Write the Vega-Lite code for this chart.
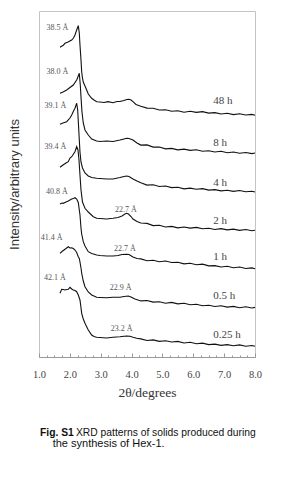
{
  "$schema": "https://vega.github.io/schema/vega-lite/v6.json",
  "width": 216,
  "height": 346,
  "autosize": {"type": "none"},
  "padding": {"left": 39, "top": 11, "right": 27, "bottom": 121},
  "background": "white",
  "config": {
    "view": {"stroke": "#c4c4c4", "strokeWidth": 1},
    "text": {"font": "Liberation Serif"}
  },
  "resolve": {"axis": {"x": "independent"}},
  "datasets": {
    "curves": [
      {"c":"48 h","x":1.680,"y":309.7},{"c":"48 h","x":1.745,"y":311.0},{"c":"48 h","x":1.778,"y":311.5},{"c":"48 h","x":1.842,"y":313.7},{"c":"48 h","x":1.940,"y":315.0},{"c":"48 h","x":2.060,"y":317.0},{"c":"48 h","x":2.118,"y":319.0},{"c":"48 h","x":2.166,"y":322.0},{"c":"48 h","x":2.221,"y":327.0},{"c":"48 h","x":2.273,"y":331.3},{"c":"48 h","x":2.306,"y":324.0},{"c":"48 h","x":2.328,"y":312.0},{"c":"48 h","x":2.361,"y":297.0},{"c":"48 h","x":2.383,"y":285.3},{"c":"48 h","x":2.409,"y":279.0},{"c":"48 h","x":2.435,"y":275.0},{"c":"48 h","x":2.490,"y":271.0},{"c":"48 h","x":2.545,"y":267.0},{"c":"48 h","x":2.597,"y":263.0},{"c":"48 h","x":2.707,"y":258.7},{"c":"48 h","x":2.782,"y":257.0},{"c":"48 h","x":2.870,"y":255.3},{"c":"48 h","x":2.976,"y":255.0},{"c":"48 h","x":3.106,"y":254.5},{"c":"48 h","x":3.236,"y":255.4},{"c":"48 h","x":3.398,"y":254.3},{"c":"48 h","x":3.527,"y":255.5},{"c":"48 h","x":3.624,"y":255.5},{"c":"48 h","x":3.754,"y":256.5},{"c":"48 h","x":3.842,"y":257.5},{"c":"48 h","x":3.916,"y":257.7},{"c":"48 h","x":3.981,"y":257.0},{"c":"48 h","x":4.046,"y":255.3},{"c":"48 h","x":4.143,"y":252.5},
      {"c":"48 h","x":4.3,"y":250.8},{"c":"48 h","x":4.5,"y":248.9},{"c":"48 h","x":4.7,"y":248.8},{"c":"48 h","x":4.9,"y":247.0},{"c":"48 h","x":5.1,"y":247.3},{"c":"48 h","x":5.3,"y":245.7},{"c":"48 h","x":5.5,"y":246.2},{"c":"48 h","x":5.7,"y":244.8},{"c":"48 h","x":5.9,"y":245.8},{"c":"48 h","x":6.1,"y":244.6},{"c":"48 h","x":6.3,"y":245.4},{"c":"48 h","x":6.5,"y":243.9},{"c":"48 h","x":6.7,"y":244.4},{"c":"48 h","x":6.9,"y":243.0},{"c":"48 h","x":7.1,"y":243.7},{"c":"48 h","x":7.3,"y":242.4},{"c":"48 h","x":7.5,"y":243.3},{"c":"48 h","x":7.7,"y":242.0},{"c":"48 h","x":7.9,"y":242.6},{"c":"48 h","x":8.0,"y":241.7},

      {"c":"8 h","x":1.680,"y":263.7},{"c":"8 h","x":1.778,"y":265.0},{"c":"8 h","x":1.897,"y":267.0},{"c":"8 h","x":2.004,"y":269.5},{"c":"8 h","x":2.111,"y":272.0},{"c":"8 h","x":2.221,"y":277.0},{"c":"8 h","x":2.273,"y":281.0},{"c":"8 h","x":2.306,"y":283.7},{"c":"8 h","x":2.338,"y":272.0},{"c":"8 h","x":2.367,"y":257.0},{"c":"8 h","x":2.393,"y":245.0},{"c":"8 h","x":2.435,"y":234.0},{"c":"8 h","x":2.490,"y":227.0},{"c":"8 h","x":2.597,"y":222.0},{"c":"8 h","x":2.707,"y":218.0},{"c":"8 h","x":2.870,"y":216.0},{"c":"8 h","x":2.976,"y":215.5},{"c":"8 h","x":3.193,"y":216.0},{"c":"8 h","x":3.398,"y":215.5},{"c":"8 h","x":3.624,"y":217.0},{"c":"8 h","x":3.754,"y":218.0},{"c":"8 h","x":3.842,"y":218.7},{"c":"8 h","x":3.916,"y":218.5},{"c":"8 h","x":4.046,"y":217.0},{"c":"8 h","x":4.175,"y":214.0},
      {"c":"8 h","x":4.3,"y":211.9},{"c":"8 h","x":4.5,"y":212.1},{"c":"8 h","x":4.7,"y":209.9},{"c":"8 h","x":4.9,"y":210.0},{"c":"8 h","x":5.1,"y":208.1},{"c":"8 h","x":5.3,"y":208.6},{"c":"8 h","x":5.5,"y":207.1},{"c":"8 h","x":5.7,"y":207.9},{"c":"8 h","x":5.9,"y":206.6},{"c":"8 h","x":6.1,"y":207.2},{"c":"8 h","x":6.3,"y":205.7},{"c":"8 h","x":6.5,"y":206.3},{"c":"8 h","x":6.7,"y":205.0},{"c":"8 h","x":6.9,"y":205.8},{"c":"8 h","x":7.1,"y":204.3},{"c":"8 h","x":7.3,"y":205.0},{"c":"8 h","x":7.5,"y":203.7},{"c":"8 h","x":7.7,"y":204.5},{"c":"8 h","x":7.9,"y":203.4},{"c":"8 h","x":8.0,"y":204.0},

      {"c":"4 h","x":1.680,"y":232.7},{"c":"4 h","x":1.778,"y":234.0},{"c":"4 h","x":1.897,"y":235.3},{"c":"4 h","x":2.004,"y":239.0},{"c":"4 h","x":2.060,"y":242.0},{"c":"4 h","x":2.118,"y":246.0},{"c":"4 h","x":2.166,"y":248.7},{"c":"4 h","x":2.221,"y":253.7},{"c":"4 h","x":2.254,"y":247.0},{"c":"4 h","x":2.280,"y":232.0},{"c":"4 h","x":2.306,"y":217.0},{"c":"4 h","x":2.328,"y":205.0},{"c":"4 h","x":2.361,"y":195.0},{"c":"4 h","x":2.409,"y":189.0},{"c":"4 h","x":2.490,"y":184.0},{"c":"4 h","x":2.597,"y":181.0},{"c":"4 h","x":2.707,"y":179.5},{"c":"4 h","x":2.870,"y":178.7},{"c":"4 h","x":2.976,"y":178.5},{"c":"4 h","x":3.193,"y":178.0},{"c":"4 h","x":3.398,"y":178.0},{"c":"4 h","x":3.624,"y":179.5},{"c":"4 h","x":3.754,"y":180.5},{"c":"4 h","x":3.842,"y":181.0},{"c":"4 h","x":3.916,"y":180.5},{"c":"4 h","x":4.046,"y":178.0},{"c":"4 h","x":4.175,"y":176.0},
      {"c":"4 h","x":4.3,"y":174.3},{"c":"4 h","x":4.5,"y":171.9},{"c":"4 h","x":4.7,"y":172.2},{"c":"4 h","x":4.9,"y":170.5},{"c":"4 h","x":5.1,"y":171.0},{"c":"4 h","x":5.3,"y":169.4},{"c":"4 h","x":5.5,"y":169.8},{"c":"4 h","x":5.7,"y":168.1},{"c":"4 h","x":5.9,"y":168.9},{"c":"4 h","x":6.1,"y":167.7},{"c":"4 h","x":6.3,"y":168.4},{"c":"4 h","x":6.5,"y":166.9},{"c":"4 h","x":6.7,"y":167.4},{"c":"4 h","x":6.9,"y":166.1},{"c":"4 h","x":7.1,"y":166.8},{"c":"4 h","x":7.3,"y":165.6},{"c":"4 h","x":7.5,"y":166.5},{"c":"4 h","x":7.7,"y":165.2},{"c":"4 h","x":7.9,"y":165.8},{"c":"4 h","x":8.0,"y":165.0},

      {"c":"2 h","x":1.680,"y":189.7},{"c":"2 h","x":1.778,"y":192.0},{"c":"2 h","x":1.875,"y":194.0},{"c":"2 h","x":1.949,"y":195.3},{"c":"2 h","x":2.004,"y":199.0},{"c":"2 h","x":2.060,"y":200.3},{"c":"2 h","x":2.118,"y":203.0},{"c":"2 h","x":2.166,"y":205.3},{"c":"2 h","x":2.221,"y":210.3},{"c":"2 h","x":2.264,"y":207.0},{"c":"2 h","x":2.296,"y":197.0},{"c":"2 h","x":2.328,"y":182.0},{"c":"2 h","x":2.361,"y":167.0},{"c":"2 h","x":2.409,"y":155.0},{"c":"2 h","x":2.490,"y":148.7},{"c":"2 h","x":2.597,"y":145.0},{"c":"2 h","x":2.759,"y":140.3},{"c":"2 h","x":2.870,"y":138.7},{"c":"2 h","x":2.976,"y":138.5},{"c":"2 h","x":3.193,"y":138.0},{"c":"2 h","x":3.398,"y":138.7},{"c":"2 h","x":3.560,"y":139.5},{"c":"2 h","x":3.689,"y":141.0},{"c":"2 h","x":3.786,"y":143.0},{"c":"2 h","x":3.842,"y":143.7},{"c":"2 h","x":3.900,"y":143.0},{"c":"2 h","x":3.981,"y":140.5},{"c":"2 h","x":4.046,"y":138.0},{"c":"2 h","x":4.175,"y":135.5},
      {"c":"2 h","x":4.3,"y":134.0},{"c":"2 h","x":4.5,"y":133.6},{"c":"2 h","x":4.7,"y":131.4},{"c":"2 h","x":4.9,"y":131.8},{"c":"2 h","x":5.1,"y":130.0},{"c":"2 h","x":5.3,"y":130.6},{"c":"2 h","x":5.5,"y":129.1},{"c":"2 h","x":5.7,"y":130.0},{"c":"2 h","x":5.9,"y":128.9},{"c":"2 h","x":6.1,"y":129.6},{"c":"2 h","x":6.3,"y":128.2},{"c":"2 h","x":6.5,"y":128.8},{"c":"2 h","x":6.7,"y":127.5},{"c":"2 h","x":6.9,"y":128.4},{"c":"2 h","x":7.1,"y":127.1},{"c":"2 h","x":7.3,"y":127.9},{"c":"2 h","x":7.5,"y":126.6},{"c":"2 h","x":7.7,"y":127.5},{"c":"2 h","x":7.9,"y":126.3},{"c":"2 h","x":8.0,"y":126.8},

      {"c":"1 h","x":1.680,"y":153.0},{"c":"1 h","x":1.745,"y":154.0},{"c":"1 h","x":1.787,"y":153.7},{"c":"1 h","x":1.875,"y":155.0},{"c":"1 h","x":1.949,"y":156.0},{"c":"1 h","x":2.004,"y":157.0},{"c":"1 h","x":2.060,"y":158.0},{"c":"1 h","x":2.118,"y":158.5},{"c":"1 h","x":2.166,"y":159.3},{"c":"1 h","x":2.221,"y":158.0},{"c":"1 h","x":2.273,"y":154.5},{"c":"1 h","x":2.306,"y":147.0},{"c":"1 h","x":2.328,"y":142.0},{"c":"1 h","x":2.361,"y":129.0},{"c":"1 h","x":2.383,"y":123.0},{"c":"1 h","x":2.435,"y":115.3},{"c":"1 h","x":2.490,"y":111.0},{"c":"1 h","x":2.597,"y":105.3},{"c":"1 h","x":2.707,"y":103.5},{"c":"1 h","x":2.870,"y":102.0},{"c":"1 h","x":2.976,"y":101.5},{"c":"1 h","x":3.193,"y":101.0},{"c":"1 h","x":3.398,"y":101.0},{"c":"1 h","x":3.560,"y":101.5},{"c":"1 h","x":3.689,"y":102.5},{"c":"1 h","x":3.842,"y":102.7},{"c":"1 h","x":3.916,"y":102.5},{"c":"1 h","x":4.046,"y":100.0},{"c":"1 h","x":4.175,"y":98.5},
      {"c":"1 h","x":4.3,"y":98.1},{"c":"1 h","x":4.5,"y":96.3},{"c":"1 h","x":4.7,"y":96.8},{"c":"1 h","x":4.9,"y":95.3},{"c":"1 h","x":5.1,"y":96.0},{"c":"1 h","x":5.3,"y":94.5},{"c":"1 h","x":5.5,"y":94.8},{"c":"1 h","x":5.7,"y":93.1},{"c":"1 h","x":5.9,"y":93.7},{"c":"1 h","x":6.1,"y":92.3},{"c":"1 h","x":6.3,"y":92.9},{"c":"1 h","x":6.5,"y":91.1},{"c":"1 h","x":6.7,"y":91.4},{"c":"1 h","x":6.9,"y":90.0},{"c":"1 h","x":7.1,"y":90.7},{"c":"1 h","x":7.3,"y":89.3},{"c":"1 h","x":7.5,"y":90.0},{"c":"1 h","x":7.7,"y":88.5},{"c":"1 h","x":7.9,"y":89.1},{"c":"1 h","x":8.0,"y":88.2},

      {"c":"0.5 h","x":1.680,"y":103.7},{"c":"0.5 h","x":1.745,"y":105.5},{"c":"0.5 h","x":1.810,"y":107.0},{"c":"0.5 h","x":1.875,"y":108.5},{"c":"0.5 h","x":1.949,"y":110.3},{"c":"0.5 h","x":2.004,"y":109.0},{"c":"0.5 h","x":2.060,"y":109.3},{"c":"0.5 h","x":2.111,"y":108.5},{"c":"0.5 h","x":2.166,"y":107.0},{"c":"0.5 h","x":2.221,"y":104.5},{"c":"0.5 h","x":2.273,"y":100.3},{"c":"0.5 h","x":2.306,"y":98.5},{"c":"0.5 h","x":2.328,"y":95.0},{"c":"0.5 h","x":2.361,"y":89.0},{"c":"0.5 h","x":2.383,"y":84.0},{"c":"0.5 h","x":2.435,"y":76.0},{"c":"0.5 h","x":2.490,"y":70.3},{"c":"0.5 h","x":2.597,"y":65.0},{"c":"0.5 h","x":2.707,"y":62.0},{"c":"0.5 h","x":2.870,"y":59.7},{"c":"0.5 h","x":2.976,"y":59.5},{"c":"0.5 h","x":3.193,"y":59.2},{"c":"0.5 h","x":3.398,"y":59.7},{"c":"0.5 h","x":3.624,"y":59.7},{"c":"0.5 h","x":3.754,"y":60.5},{"c":"0.5 h","x":3.893,"y":61.0},{"c":"0.5 h","x":3.981,"y":60.0},{"c":"0.5 h","x":4.110,"y":58.0},
      {"c":"0.5 h","x":4.3,"y":56.1},{"c":"0.5 h","x":4.5,"y":56.5},{"c":"0.5 h","x":4.7,"y":54.9},{"c":"0.5 h","x":4.9,"y":55.3},{"c":"0.5 h","x":5.1,"y":53.8},{"c":"0.5 h","x":5.3,"y":54.6},{"c":"0.5 h","x":5.5,"y":53.1},{"c":"0.5 h","x":5.7,"y":53.7},{"c":"0.5 h","x":5.9,"y":52.3},{"c":"0.5 h","x":6.1,"y":52.8},{"c":"0.5 h","x":6.3,"y":51.2},{"c":"0.5 h","x":6.5,"y":51.8},{"c":"0.5 h","x":6.7,"y":50.5},{"c":"0.5 h","x":6.9,"y":51.3},{"c":"0.5 h","x":7.1,"y":49.9},{"c":"0.5 h","x":7.3,"y":50.6},{"c":"0.5 h","x":7.5,"y":49.3},{"c":"0.5 h","x":7.7,"y":50.2},{"c":"0.5 h","x":7.9,"y":49.0},{"c":"0.5 h","x":8.0,"y":49.6},

      {"c":"0.25 h","x":1.680,"y":63.7},{"c":"0.25 h","x":1.735,"y":67.7},{"c":"0.25 h","x":1.787,"y":67.5},{"c":"0.25 h","x":1.842,"y":67.0},{"c":"0.25 h","x":1.897,"y":67.5},{"c":"0.25 h","x":1.949,"y":67.7},{"c":"0.25 h","x":2.004,"y":69.7},{"c":"0.25 h","x":2.060,"y":68.0},{"c":"0.25 h","x":2.111,"y":67.0},{"c":"0.25 h","x":2.166,"y":66.5},{"c":"0.25 h","x":2.221,"y":65.3},{"c":"0.25 h","x":2.273,"y":62.0},{"c":"0.25 h","x":2.328,"y":57.0},{"c":"0.25 h","x":2.354,"y":51.0},{"c":"0.25 h","x":2.383,"y":43.7},{"c":"0.25 h","x":2.435,"y":38.0},{"c":"0.25 h","x":2.490,"y":33.7},{"c":"0.25 h","x":2.597,"y":27.0},{"c":"0.25 h","x":2.707,"y":22.0},{"c":"0.25 h","x":2.782,"y":20.5},{"c":"0.25 h","x":2.870,"y":19.7},{"c":"0.25 h","x":2.976,"y":19.5},{"c":"0.25 h","x":3.193,"y":19.0},{"c":"0.25 h","x":3.398,"y":19.7},{"c":"0.25 h","x":3.624,"y":20.2},{"c":"0.25 h","x":3.754,"y":20.7},{"c":"0.25 h","x":3.842,"y":21.0},{"c":"0.25 h","x":3.948,"y":20.7},{"c":"0.25 h","x":4.046,"y":19.7},{"c":"0.25 h","x":4.166,"y":18.7},
      {"c":"0.25 h","x":4.3,"y":18.1},{"c":"0.25 h","x":4.5,"y":16.5},{"c":"0.25 h","x":4.7,"y":17.1},{"c":"0.25 h","x":4.9,"y":15.6},{"c":"0.25 h","x":5.1,"y":16.3},{"c":"0.25 h","x":5.3,"y":15.0},{"c":"0.25 h","x":5.5,"y":15.6},{"c":"0.25 h","x":5.7,"y":14.0},{"c":"0.25 h","x":5.9,"y":14.7},{"c":"0.25 h","x":6.1,"y":13.3},{"c":"0.25 h","x":6.3,"y":13.9},{"c":"0.25 h","x":6.5,"y":12.4},{"c":"0.25 h","x":6.7,"y":12.9},{"c":"0.25 h","x":6.9,"y":11.6},{"c":"0.25 h","x":7.1,"y":12.4},{"c":"0.25 h","x":7.3,"y":11.2},{"c":"0.25 h","x":7.5,"y":12.1},{"c":"0.25 h","x":7.7,"y":10.8},{"c":"0.25 h","x":7.9,"y":11.5},{"c":"0.25 h","x":8.0,"y":10.7}
    ],
    "spacings": [
      {"x":1.594,"y":329.0,"t":"38.5 Å"},
      {"x":1.599,"y":285.0,"t":"38.0 Å"},
      {"x":1.535,"y":251.5,"t":"39.1 Å"},
      {"x":1.535,"y":210.3,"t":"39.4 Å"},
      {"x":1.583,"y":165.3,"t":"40.8 Å"},
      {"x":1.411,"y":118.7,"t":"41.4 Å"},
      {"x":1.518,"y":78.7,"t":"42.1 Å"},
      {"x":3.819,"y":147.0,"t":"22.7 Å"},
      {"x":3.786,"y":108.0,"t":"22.7 Å"},
      {"x":3.647,"y":68.7,"t":"22.9 Å"},
      {"x":3.679,"y":27.7,"t":"23.2 Å"}
    ],
    "times": [
      {"x":6.647,"y":256.3,"t":"48 h"},
      {"x":6.647,"y":214.3,"t":"8 h"},
      {"x":6.647,"y":173.7,"t":"4 h"},
      {"x":6.647,"y":136.0,"t":"2 h"},
      {"x":6.647,"y":99.7,"t":"1 h"},
      {"x":6.647,"y":61.0,"t":"0.5 h"},
      {"x":6.647,"y":22.0,"t":"0.25 h"}
    ],
    "caption": [
      {"x":1.032,"y":-76.0,"t":"Fig. S1","part":"label"},
      {"x":2.199,"y":-76.0,"t":"XRD patterns of solids produced during","part":"body"},
      {"x":1.444,"y":-87.0,"t":"the synthesis of Hex-1.","part":"body2"}
    ]
  },
  "layer": [
    {
      "data": {"name": "curves"},
      "mark": {"type": "line", "color": "#111111", "strokeWidth": 1.1, "interpolate": "linear"},
      "encoding": {
        "x": {
          "field": "x", "type": "quantitative",
          "scale": {"domain": [1, 8], "nice": false, "zero": false},
          "axis": {
            "orient": "bottom",
            "title": "2θ/degrees",
            "titleFont": "Liberation Serif", "titleFontSize": 13.5, "titleFontWeight": "normal", "titleColor": "#333333", "titlePadding": 6,
            "values": [1,2,3,4,5,6,7,8],
            "format": ".1f",
            "labelFont": "Liberation Serif", "labelFontSize": 10.5, "labelColor": "#444444",
            "labelPadding": 16, "labelOverlap": false, "labelFlush": false,
            "tickSize": -4,
            "tickColor": "#999999", "domainColor": "#999999", "grid": false
          }
        },
        "y": {
          "field": "y", "type": "quantitative",
          "scale": {"domain": [0, 346], "nice": false, "zero": false},
          "axis": {
            "title": "Intensity/arbitrary units",
            "titleFont": "Liberation Sans", "titleFontSize": 13, "titleFontWeight": "normal", "titleColor": "#333333", "titlePadding": 18,
            "labels": false, "ticks": false, "domain": false, "grid": false
          }
        },
        "detail": {"field": "c"}
      }
    },
    {
      "data": {"name": "spacings"},
      "mark": {"type": "text", "font": "Liberation Serif", "fontSize": 8, "color": "#555555", "align": "center", "baseline": "middle"},
      "encoding": {
        "x": {"field": "x", "type": "quantitative", "axis": null},
        "y": {"field": "y", "type": "quantitative"},
        "text": {"field": "t"}
      }
    },
    {
      "data": {"name": "times"},
      "mark": {"type": "text", "font": "Liberation Serif", "fontSize": 11, "color": "#444444", "align": "left", "baseline": "middle"},
      "encoding": {
        "x": {
          "field": "x", "type": "quantitative",
          "axis": {
            "orient": "bottom", "title": null, "labels": false, "domain": false, "grid": false,
            "values": [1.25,1.5,1.75,2.25,2.5,2.75,3.25,3.5,3.75,4.25,4.5,4.75,5.25,5.5,5.75,6.25,6.5,6.75,7.25,7.5,7.75],
            "tickSize": -2, "tickColor": "#999999"
          }
        },
        "y": {"field": "y", "type": "quantitative"},
        "text": {"field": "t"}
      }
    },
    {
      "data": {"name": "caption"},
      "transform": [{"filter": "datum.part === 'label'"}],
      "mark": {"type": "text", "font": "Liberation Sans", "fontSize": 10.3, "fontWeight": "bold", "color": "#111111", "align": "left", "baseline": "middle"},
      "encoding": {
        "x": {"field": "x", "type": "quantitative", "axis": null},
        "y": {"field": "y", "type": "quantitative"},
        "text": {"field": "t"}
      }
    },
    {
      "data": {"name": "caption"},
      "transform": [{"filter": "datum.part === 'body'"}],
      "mark": {"type": "text", "font": "Liberation Sans", "fontSize": 10.3, "color": "#111111", "align": "left", "baseline": "middle"},
      "encoding": {
        "x": {"field": "x", "type": "quantitative", "axis": null},
        "y": {"field": "y", "type": "quantitative"},
        "text": {"field": "t"}
      }
    },
    {
      "data": {"name": "caption"},
      "transform": [{"filter": "datum.part === 'body2'"}],
      "mark": {"type": "text", "font": "Liberation Sans", "fontSize": 11, "color": "#111111", "align": "left", "baseline": "middle"},
      "encoding": {
        "x": {"field": "x", "type": "quantitative", "axis": null},
        "y": {"field": "y", "type": "quantitative"},
        "text": {"field": "t"}
      }
    }
  ]
}
